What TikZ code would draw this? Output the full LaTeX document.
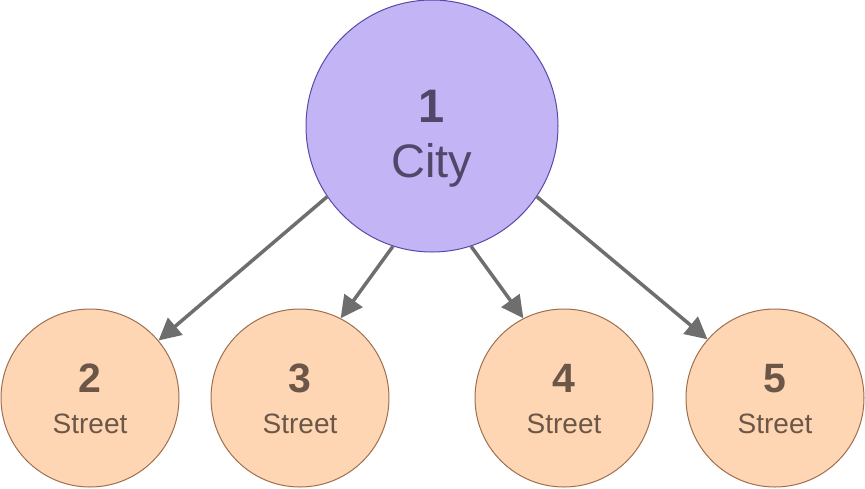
\documentclass[tikz,border=0pt]{standalone}
\usepackage{fontspec}
\setmainfont{Liberation Sans}
\usetikzlibrary{arrows.meta}
\definecolor{cityfill}{HTML}{C3B5F5}
\definecolor{citydraw}{HTML}{5A4AA6}
\definecolor{citytext}{HTML}{4F4868}
\definecolor{stfill}{HTML}{FFD6B3}
\definecolor{stdraw}{HTML}{9E6F4E}
\definecolor{sttext}{HTML}{6B5647}
\definecolor{arrowgray}{HTML}{6E6E6E}
\tikzset{
  citynode/.style={circle, draw=citydraw, fill=cityfill, line width=1pt, minimum size=252pt, inner sep=0pt},
  streetnode/.style={circle, draw=stdraw, fill=stfill, line width=1pt, minimum size=178pt, inner sep=0pt},
  bignum/.style={anchor=base, inner sep=0pt, text=citytext, font=\fontsize{47}{47}\selectfont\bfseries},
  bigword/.style={anchor=base, inner sep=0pt, text=citytext, font=\fontsize{47}{47}\selectfont},
  smallnum/.style={anchor=base, inner sep=0pt, text=sttext, font=\fontsize{41}{41}\selectfont\bfseries},
  smallword/.style={anchor=base, inner sep=0pt, text=sttext, font=\fontsize{28}{28}\selectfont},
  link/.style={draw=arrowgray, line width=3.5pt, -{Triangle[length=22pt,width=22pt]}, arrowgray}
}
\begin{document}
\begin{tikzpicture}[x=1pt,y=-1pt]
\useasboundingbox (0,0) rectangle (865,488);
\node[citynode] (city) at (432,126) {};
\node[streetnode] (s2) at (90,398) {};
\node[streetnode] (s3) at (300,398) {};
\node[streetnode] (s4) at (564,398) {};
\node[streetnode] (s5) at (775,398) {};
\node[bignum] (n1) at (432,122) {1};
\node[bigword] (w1) at (432,177) {City};
\node[smallnum] (n2) at (90,392) {2};
\node[smallword] (w2) at (90,433) {Street};
\node[smallnum] (n3) at (300,392) {3};
\node[smallword] (w3) at (300,433) {Street};
\node[smallnum] (n4) at (564,392) {4};
\node[smallword] (w4) at (564,433) {Street};
\node[smallnum] (n5) at (775,392) {5};
\node[smallword] (w5) at (775,433) {Street};
\draw[link] (city.214) -- (s2.40);
\draw[link] (city.252) -- (s3.63);
\draw[link] (city.288) -- (s4.117);
\draw[link] (city.326) -- (s5.139);
\end{tikzpicture}
\end{document}
